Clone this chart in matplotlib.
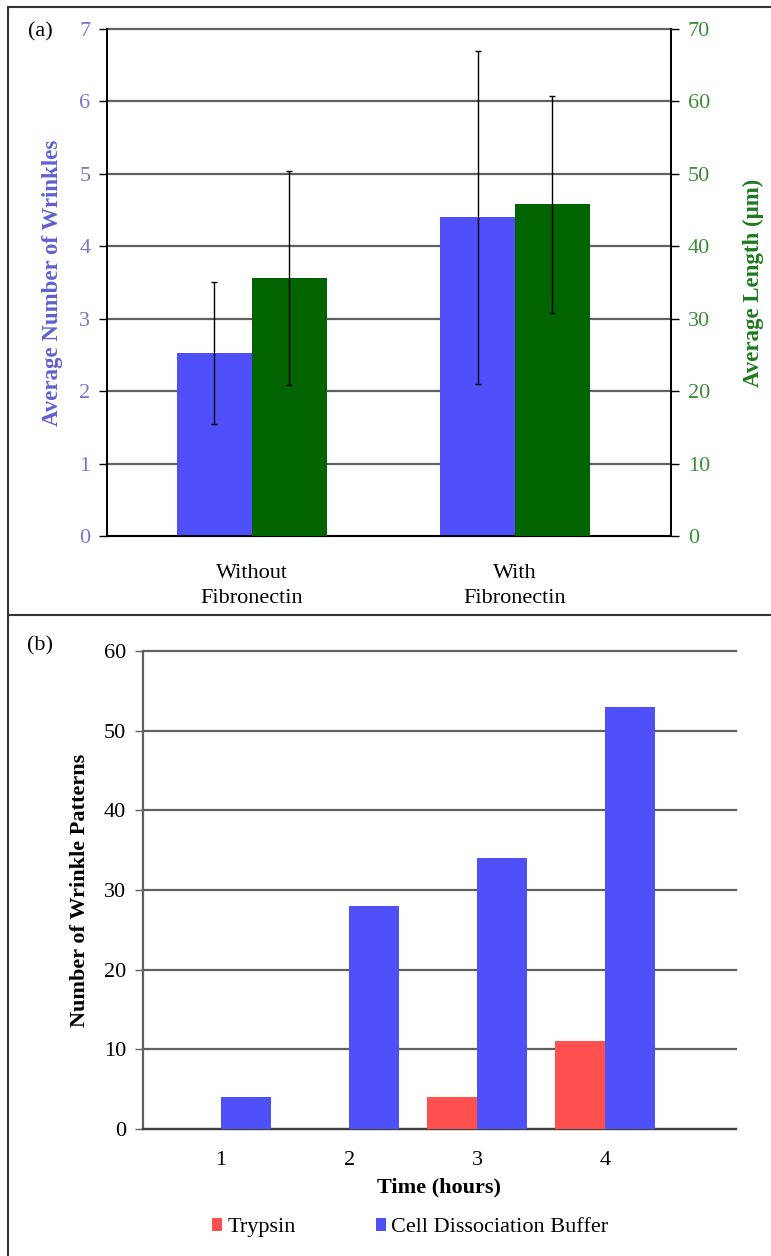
import numpy as np
import matplotlib
matplotlib.use('Agg')
import matplotlib.pyplot as plt
from matplotlib.lines import Line2D

plt.rcParams['font.family'] = ['Liberation Serif', 'DejaVu Serif']

# panel (a)
groups = ['Without\nFibronectin', 'With\nFibronectin']
wrinkles = [2.53, 4.40]
wrinkles_err = [0.98, 2.30]
length = [35.6, 45.8]
length_err = [14.8, 15.0]

# panel (b)
hours = [1, 2, 3, 4]
trypsin = [0, 0, 4, 11]
buffer = [4, 28, 34, 53]

blue = '#5050fa'
green = '#006400'
red = '#ff5050'
grid_c = '#606060'

fig = plt.figure(figsize=(7.71, 12.56), dpi=100)

# ---- (a) ----
ax = fig.add_axes([0.1388, 0.5732, 0.7315, 0.4037])
ax2 = ax.twinx()
x = np.arange(len(groups))
w = 0.285
ax.bar(x - w / 2, wrinkles, w, color=blue, zorder=3)
ax2.bar(x + w / 2, length, w, color=green, zorder=3)
ax.errorbar(x - w / 2, wrinkles, yerr=wrinkles_err, fmt='none', ecolor='black',
            elinewidth=1, capsize=2, zorder=4)
ax2.errorbar(x + w / 2, length, yerr=length_err, fmt='none', ecolor='black',
             elinewidth=1, capsize=2, zorder=4)
ax.set_xlim(-0.551, 1.593)
ax.set_ylim(0, 7)
ax2.set_ylim(0, 70)
ax.set_yticks(range(0, 8))
ax2.set_yticks(range(0, 80, 10))
ax.yaxis.grid(True, color=grid_c, linewidth=1.6, zorder=0)
for l in ax.get_ygridlines():
    l.set_clip_on(False)
ax.set_axisbelow(True)
ax.set_xticks(x)
ax.set_xticklabels(groups, fontsize=16, linespacing=1.45)
ax.tick_params(axis='x', length=0, pad=20)
ax.tick_params(axis='y', labelcolor='#7878c8', color='black', labelsize=16,
               length=6, width=1, pad=6)
ax2.tick_params(axis='y', labelcolor='#3c8c3c', color='black', labelsize=16,
                length=6, width=1, pad=6)
for a in (ax, ax2):
    a.spines['top'].set_visible(False)
    for s in ('left', 'right', 'bottom'):
        a.spines[s].set_linewidth(1.3)
ax.set_ylabel('Average Number of Wrinkles', fontsize=16.5, fontweight='bold',
              color='#6060d0', labelpad=12)
ax2.set_ylabel('Average Length (μm)', fontsize=16.5, fontweight='bold',
               color='#1e7a1e', labelpad=24)
fig.text(0.052, 0.975, '(a)', fontsize=16, ha='center', va='center')

# ---- (b) ----
bx = fig.add_axes([0.1855, 0.1011, 0.769, 0.3806])
bw = 0.39
hx = np.array(hours)
bx.bar(hx - bw / 2, trypsin, bw, color=red, label='Trypsin', zorder=3)
bx.bar(hx + bw / 2, buffer, bw, color=blue, label='Cell Dissociation Buffer', zorder=3)
bx.set_xlim(0.39, 5.02)
bx.set_ylim(0, 60)
bx.set_yticks(range(0, 70, 10))
bx.set_xticks(hours)
bx.yaxis.grid(True, color=grid_c, linewidth=1.6, zorder=0)
for l in bx.get_ygridlines():
    l.set_clip_on(False)
bx.set_axisbelow(True)
bx.tick_params(axis='x', length=0, labelsize=16, pad=16)
bx.tick_params(axis='y', labelsize=16, length=6, width=1, pad=6, color=grid_c)
for s in ('top', 'right'):
    bx.spines[s].set_visible(False)
bx.spines['left'].set_color(grid_c)
bx.spines['left'].set_linewidth(1.6)
bx.spines['bottom'].set_color('#404040')
bx.spines['bottom'].set_linewidth(1.6)
bx.set_xlabel('Time (hours)', fontsize=16, fontweight='bold', labelpad=5)
bx.set_ylabel('Number of Wrinkle Patterns', fontsize=16, fontweight='bold', labelpad=10)
bx.legend(loc='center', bbox_to_anchor=(0.532, 0.0225), bbox_transform=fig.transFigure,
          ncol=2, frameon=False, fontsize=16, handlelength=0.45, handleheight=0.5,
          handletextpad=0.25, columnspacing=3.6)
fig.text(0.052, 0.486, '(b)', fontsize=16, ha='center', va='center')

# panel frames
fig.add_artist(Line2D([0.0104, 1.0], [0.9944, 0.9944], color='#333333', lw=1.5))
fig.add_artist(Line2D([0.0104, 1.0], [0.5104, 0.5104], color='#333333', lw=1.5))
fig.add_artist(Line2D([0.0104, 0.0104], [0.0, 0.9944], color='#333333', lw=1.5))

fig.savefig('out.png', dpi=100)
